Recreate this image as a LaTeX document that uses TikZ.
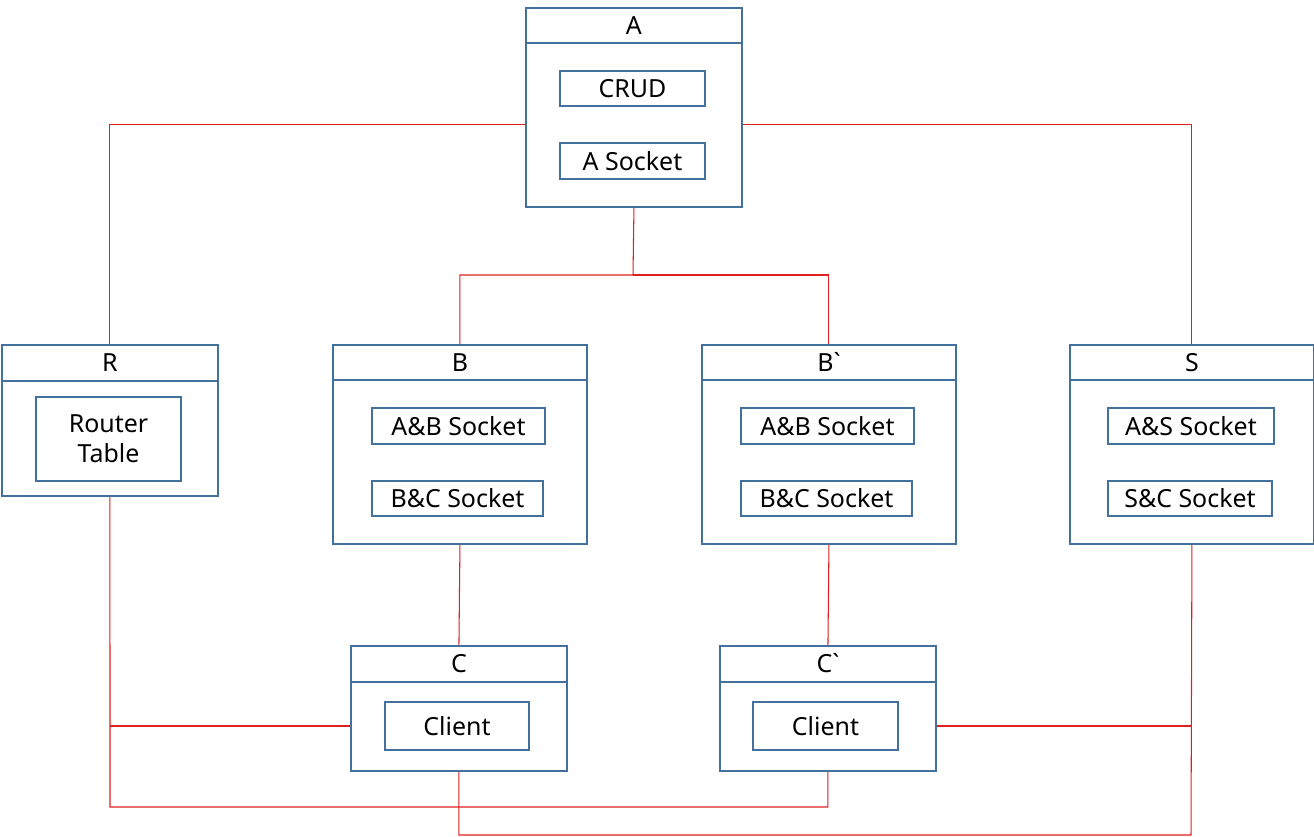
\documentclass[tikz,border=0pt]{standalone}
\usepackage{fontspec}
\setmainfont{Noto Sans}
\usetikzlibrary{positioning}
\definecolor{boxblue}{HTML}{41719C}
\definecolor{linkred}{HTML}{E02020}

\begin{document}
\begin{tikzpicture}
[x=0.02cm, y=-0.02cm, font=\fontsize{14.2}{17}\selectfont, text=black,
frame/.style={draw=boxblue, line width=1.1pt, anchor=north west, inner sep=0pt},
titlebar/.style={anchor=north, inner sep=0pt, minimum height=0.71cm},
part/.style={draw=boxblue, line width=1.1pt, inner sep=0pt, minimum height=0.71cm, minimum width=2.9cm, align=center},
link/.style={draw=linkred, line width=0.6pt}]
\useasboundingbox (0,0) rectangle (1314,836);

% server A
\node[frame, minimum width=4.32cm, minimum height=3.98cm] (A) at (525,7) {};
\node[titlebar, minimum width=4.32cm] (At) at (A.north) {A};
\node[part] (crud) at (632.5,88.5) {CRUD};
\node[part] (asock) at (632.5,161) {A Socket};

% router R
\node[frame, minimum width=4.32cm, minimum height=3.02cm] (R) at (1,344) {};
\node[titlebar, minimum width=4.32cm, minimum height=0.72cm] (Rt) at (R.north) {R};
\node[part, minimum height=1.68cm, text width=2.9cm] (rtab) at (108.5,439) {Router\\Table};

% B and B`
\node[frame, minimum width=5.08cm, minimum height=3.98cm] (B) at (332,344) {};
\node[titlebar, minimum width=5.08cm] (Bt) at (B.north) {B};
\node[part, minimum width=3.46cm] (babs) at (458.5,426) {A\&B Socket};
\node[part, minimum width=3.42cm] (bbcs) at (457.5,498.5) {B\&C Socket};

\node[frame, minimum width=5.08cm, minimum height=3.98cm] (B2) at (701,344) {};
\node[titlebar, minimum width=5.08cm] (B2t) at (B2.north) {B\textasciigrave};
\node[part, minimum width=3.46cm] (b2abs) at (827.5,426) {A\&B Socket};
\node[part, minimum width=3.42cm] (b2bcs) at (826.5,498.5) {B\&C Socket};

% S
\node[frame, minimum width=4.88cm, minimum height=3.98cm] (S) at (1069,344) {};
\node[titlebar, minimum width=4.88cm] (St) at (S.north) {S};
\node[part, minimum width=3.32cm] (sass) at (1191,426) {A\&S Socket};
\node[part, minimum width=3.28cm] (sscs) at (1190,498.5) {S\&C Socket};

% clients C and C`
\node[frame, minimum width=4.32cm, minimum height=2.5cm] (C) at (350,645) {};
\node[titlebar, minimum width=4.32cm, minimum height=0.72cm] (Ct) at (C.north) {C};
\node[part, minimum width=2.88cm, minimum height=0.96cm] (cli) at (457,726) {Client};

\node[frame, minimum width=4.32cm, minimum height=2.5cm] (C2) at (719,645) {};
\node[titlebar, minimum width=4.32cm, minimum height=0.72cm] (C2t) at (C2.north) {C\textasciigrave};
\node[part, minimum width=2.9cm, minimum height=0.96cm] (cli2) at (825.5,726) {Client};

% title bar lines
\foreach \t in {At,Rt,Bt,B2t,St,Ct,C2t}
  \draw[boxblue, line width=1.1pt] (\t.south west) -- (\t.south east);

% links
\coordinate (splitA) at (633,275);
\coordinate (busR) at (110,807);
\coordinate (busS) at (1191,835);
\draw[link] ([yshift=-0.35cm]A.west) -| (R.north);
\draw[link] ([yshift=-0.35cm]A.east) -| (S.north);
\draw[link] (A.south) -- (splitA) -| (B.north);
\draw[link] (splitA) -| (B2.north);
\draw[link] (B.south) -- (C.north);
\draw[link] (B2.south) -- (C2.north);
\draw[link] (R.south) -- (busR) -| (C2.south);
\draw[link] (R.south |- cli.center) -- (cli.center -| C.west);
\draw[link] (S.south) -- (busS) -| (C.south);
\draw[link] (cli2.center -| C2.east) -- (S.south |- cli2.center);
\end{tikzpicture}
\end{document}
